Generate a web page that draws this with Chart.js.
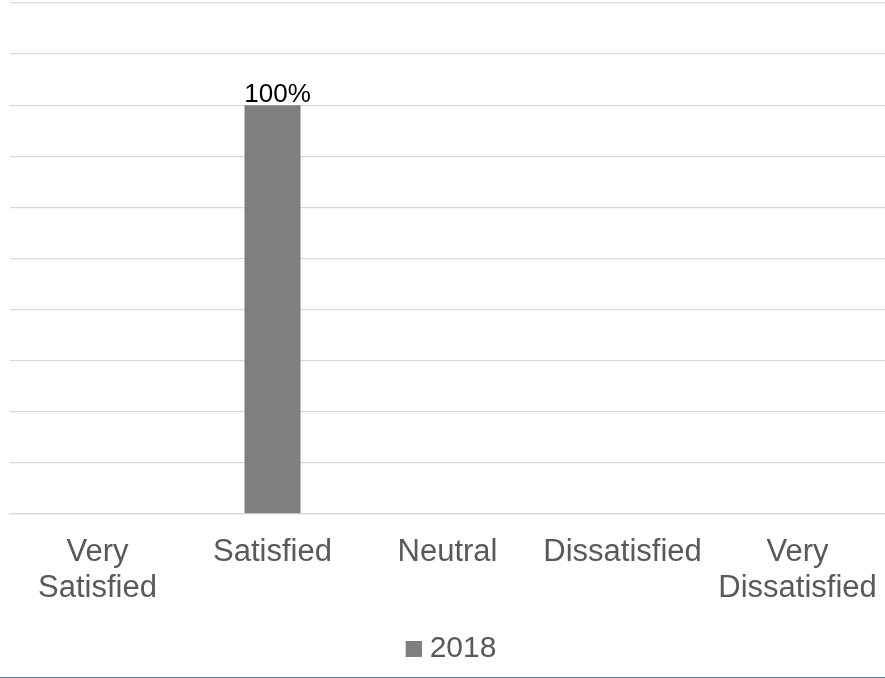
<!DOCTYPE html>
<html>
<head>
<meta charset="utf-8">
<script src="https://cdn.jsdelivr.net/npm/chart.js@4"></script>
<style>
  html, body { margin: 0; padding: 0; background: #fff; }
  #wrap { width: 885px; height: 677px; border-bottom: 1px solid #4f81ad; position: relative; }
</style>
</head>
<body>
<div id="wrap"><canvas id="myChart"></canvas></div>
<script>
const categories = [['Very', 'Satisfied'], 'Satisfied', 'Neutral', 'Dissatisfied', ['Very', 'Dissatisfied']];
const seriesName = '2018';
const values2018 = [null, 100, null, null, null];
const valueLabels = ['', '100%', '', '', ''];
const barColor = '#7f7f7f';

// legend marker: square pushed right so it sits close to the text
const marker = document.createElement('canvas');
marker.width = 30;
marker.height = 16;
const mctx = marker.getContext('2d');
mctx.fillStyle = barColor;
mctx.fillRect(14, 0, 16, 16);

// draws the value label above each bar
const barLabels = {
  id: 'barLabels',
  afterDatasetsDraw(chart) {
    const c = chart.ctx;
    const meta = chart.getDatasetMeta(0);
    c.save();
    c.font = '26px "Liberation Sans", Arial, sans-serif';
    c.fillStyle = '#000';
    c.textAlign = 'center';
    c.textBaseline = 'alphabetic';
    meta.data.forEach((bar, i) => {
      if (values2018[i] == null) return;
      c.fillText(valueLabels[i], bar.x + 5, bar.y - 3);
    });
    c.restore();
  }
};

const ctx = document.getElementById('myChart').getContext('2d');
new Chart(ctx, {
  type: 'bar',
  data: {
    labels: categories,
    datasets: [{
      label: seriesName,
      data: values2018,
      backgroundColor: barColor,
      categoryPercentage: 1,
      barPercentage: 0.32
    }]
  },
  options: {
    responsive: true,
    maintainAspectRatio: false,
    animation: false,
    layout: { padding: { top: 3, left: 10, right: 0, bottom: 3 } },
    scales: {
      x: {
        grid: { display: false, drawTicks: false },
        border: { display: true, color: '#d9d9d9', width: 1.3 },
        // keep the tick padding from narrowing the plot sideways
        afterFit(scale) {
          scale.paddingLeft = 0;
          scale.paddingRight = 0;
        },
        ticks: {
          color: '#595959',
          padding: 20,
          maxRotation: 0,
          autoSkip: false,
          font: { family: '"Liberation Sans", Arial, sans-serif', size: 31, lineHeight: 1.18 }
        }
      },
      y: {
        min: 0,
        max: 125,
        border: { display: false },
        grid: { color: '#d9d9d9', lineWidth: 1.3, drawTicks: false },
        ticks: { display: false, stepSize: 12.5 }
      }
    },
    plugins: {
      tooltip: { enabled: false },
      legend: {
        position: 'bottom',
        labels: {
          color: '#595959',
          usePointStyle: true,
          pointStyle: marker,
          boxWidth: 16,
          boxHeight: 16,
          padding: 7,
          font: { family: '"Liberation Sans", Arial, sans-serif', size: 30 }
        }
      }
    }
  },
  plugins: [barLabels]
});
</script>
</body>
</html>
